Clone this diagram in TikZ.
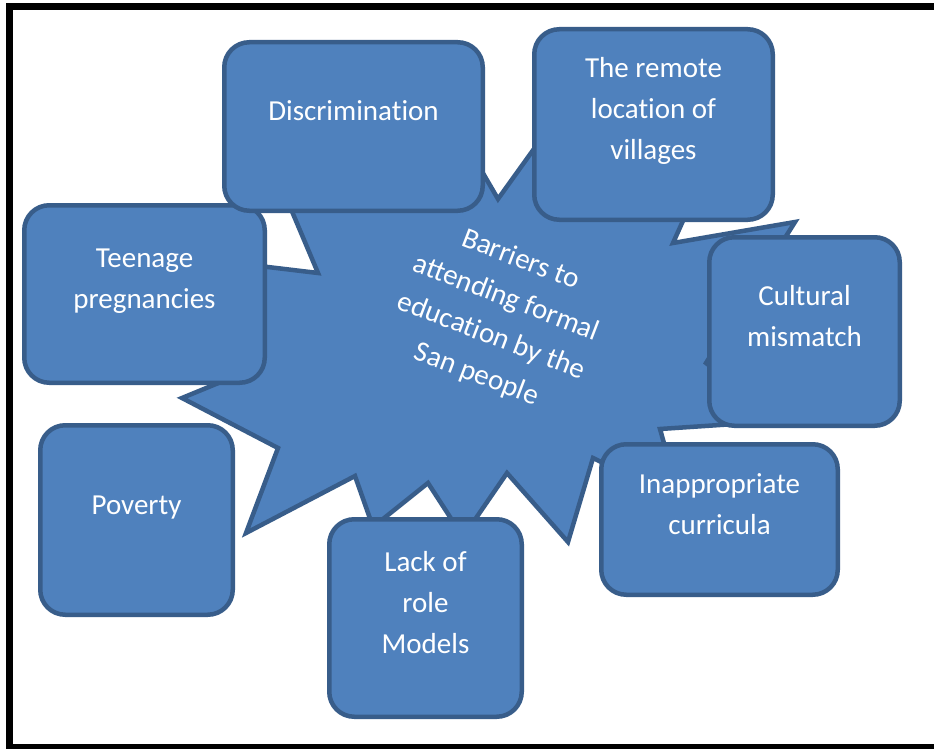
\documentclass[tikz,border=0pt]{standalone}
\usepackage{fontspec}
\setmainfont{Carlito}[Ligatures={NoCommon}]
\definecolor{fillb}{HTML}{4F81BD}
\definecolor{edgeb}{HTML}{385D8A}
\begin{document}
\begin{tikzpicture}[x=1pt,y=-1pt,
  shapefill/.style={fill=fillb, draw=edgeb, line width=4.5pt},
  box/.style={shapefill, rounded corners=25pt, inner sep=0pt},
  txt/.style={text=white, font=\fontsize{29}{41}\selectfont, align=center, inner sep=0pt}]
\useasboundingbox (0,0) rectangle (934,749);
\fill[white] (0,0) rectangle (934,749);
% frame
\begin{scope}
\clip (0,0) rectangle (934,749);
\draw[line width=7pt] (9.5,6.5) rectangle (950,747.5);
\end{scope}
% central burst
\draw[shapefill, line join=miter]
  (318,273) -- (280,183) -- (380,195) -- (466,144) -- (498,199) -- (559,114)
  -- (620,195) -- (700,183) -- (673,243) -- (795,222) -- (706,363) -- (780,421)
  -- (660,429) -- (680,500) -- (593,458) -- (568,542) -- (507,473) -- (463,537)
  -- (428,483) -- (373,527) -- (355,476) -- (246,533) -- (278,448) -- (182,398)
  -- (250,370) -- (201,259) -- cycle;
\node[txt, rotate=-21] (centre) at (498.5,317.5)
  {Barriers to\\attending formal\\education by the\\San people};
% boxes
\node[box, minimum width=240.5pt, minimum height=177.5pt] (teen) at (144.5,294) {};
\node[box, minimum width=258.5pt, minimum height=168.5pt] (disc) at (353.5,126.5) {};
\node[box, minimum width=238.5pt, minimum height=190.5pt] (remote) at (653.5,124.5) {};
\node[box, minimum width=190.5pt, minimum height=188.5pt] (cult) at (804.5,331.5) {};
\node[box, minimum width=192.5pt, minimum height=189.5pt] (pov) at (136.5,520) {};
\node[box, minimum width=192.5pt, minimum height=197.5pt] (lack) at (425.5,618) {};
\node[box, minimum width=236.5pt, minimum height=150.5pt] (inap) at (719.5,519.5) {};
% texts
\node[txt] (teent) at (144.5,280) {\strut Teenage\\\strut pregnancies};
\node[txt] (disct) at (353.5,112.5) {\strut Discrimination};
\node[txt] (remotet) at (653.5,110.5) {\strut The remote\\\strut location of\\\strut villages};
\node[txt] (cultt) at (804.5,317.5) {\strut Cultural\\\strut mismatch};
\node[txt] (povt) at (136.5,506) {\strut Poverty};
\node[txt] (lackt) at (425.5,604) {\strut Lack of\\\strut role\\\strut Models};
\node[txt] (inapt) at (719.5,505.5) {\strut Inappropriate\\\strut curricula};
\end{tikzpicture}
\end{document}
